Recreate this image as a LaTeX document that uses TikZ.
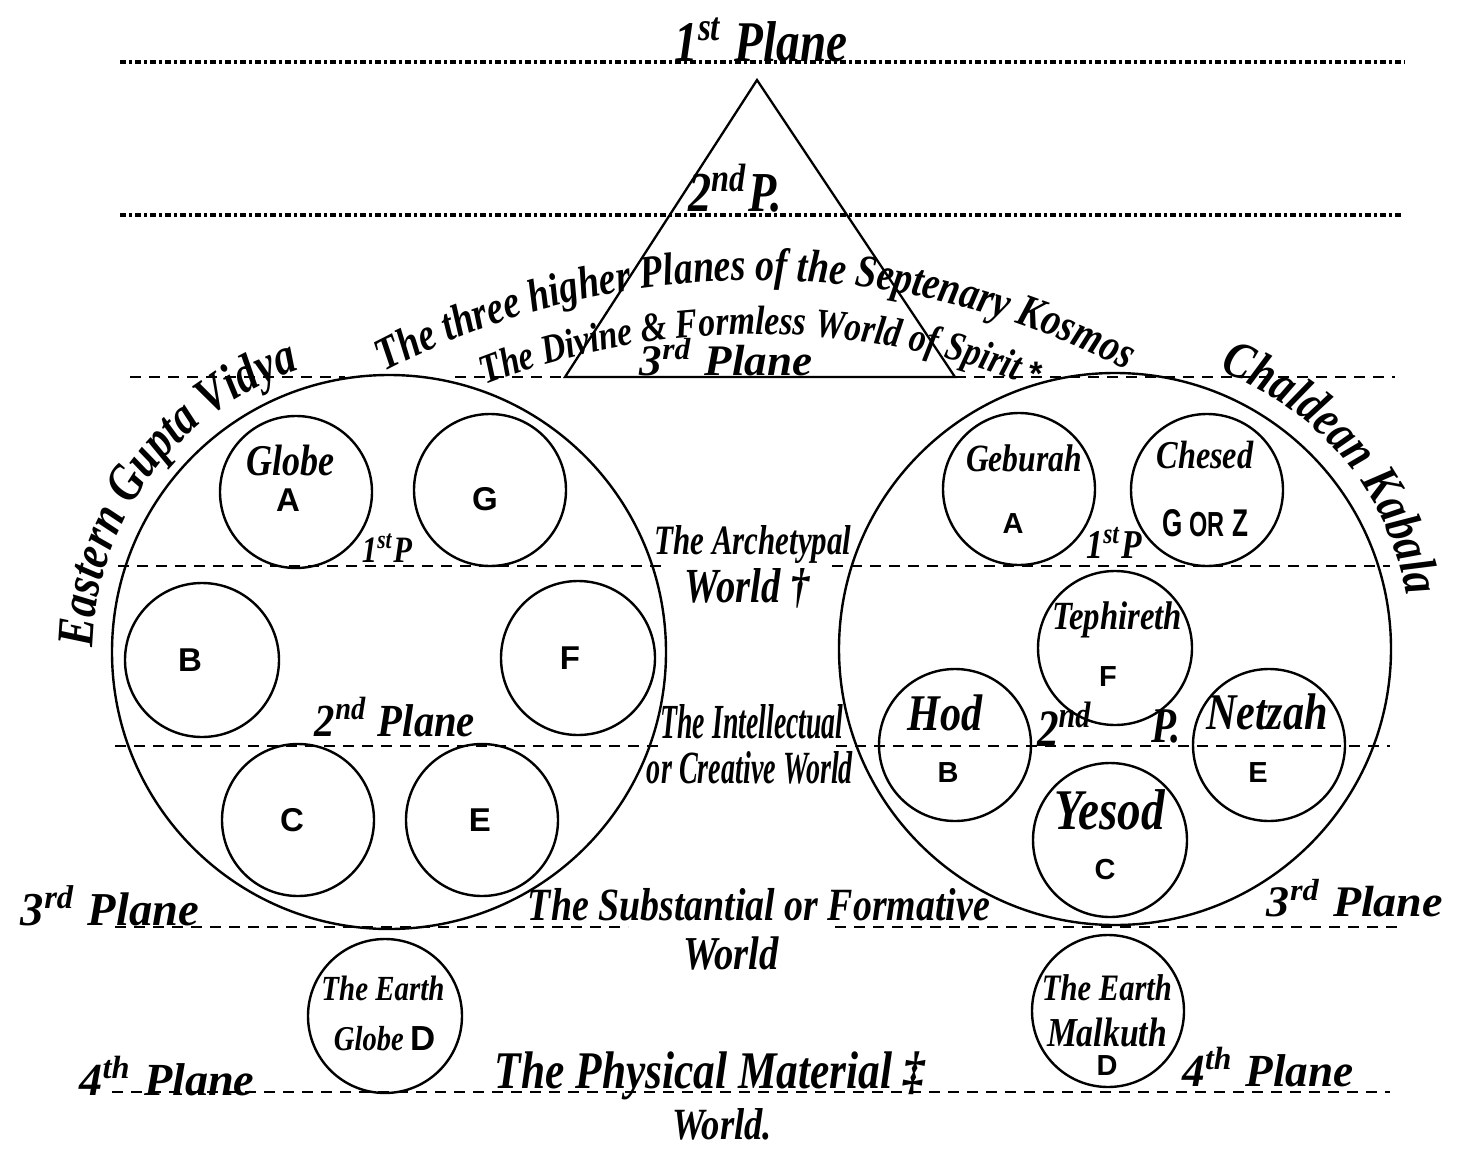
\documentclass[tikz,border=0pt]{standalone}
\usepackage{graphicx}
\usepackage{fontspec}
\setmainfont{Liberation Serif}
\setsansfont{Liberation Sans}
\newfontfamily\lettering[FakeStretch=0.82]{Liberation Serif}
\usetikzlibrary{decorations.text}
\newcommand\lab[2]{\resizebox{#1pt}{!}{\lettering\bfseries\itshape #2}}
\newcommand\labh[3]{\resizebox{#1pt}{#2pt}{\lettering\bfseries\itshape #3}}
\newcommand\sfl[2]{{\sffamily\bfseries\fontsize{#1}{#1}\selectfont #2}}
\newcommand\arcfont[1]{\lettering\bfseries\itshape\fontsize{#1}{#1}\selectfont}
\begin{document}
\begin{tikzpicture}[x=1pt,y=-1pt,
  ring/.style={draw, circle, line width=2.4pt, inner sep=0pt, minimum size=#1},
  txt/.style={inner sep=0pt},
  plane/.style={line width=2.2pt, dash pattern=on 11pt off 8pt},
  topplane/.style={line width=3.2pt, dash pattern=on 6pt off 3pt on 3pt off 3pt},
  solidline/.style={line width=2.3pt}]
\useasboundingbox (0,0) rectangle (1470,1164);
\fill[white] (0,0) rectangle (1470,1164);

% ---------- plane lines ----------
\coordinate (p1a) at (120,62);   \coordinate (p1b) at (1405,62);
\coordinate (p2a) at (120,215);  \coordinate (p2b) at (1403,215);
\coordinate (p3a) at (130,377);  \coordinate (p3b) at (345,377);
\coordinate (p3c) at (455,377);  \coordinate (p3d) at (955,377);
\coordinate (p3e) at (1395,377);
\coordinate (p4a) at (118,566);  \coordinate (p4b) at (668,566);
\coordinate (p4c) at (832,566);  \coordinate (p4d) at (1390,566);
\coordinate (p5a) at (115,746);  \coordinate (p5b) at (665,746);
\coordinate (p5c) at (836,746);  \coordinate (p5d) at (1390,746);
\coordinate (p6a) at (115,927);  \coordinate (p6b) at (628,927);
\coordinate (p6c) at (835,927);  \coordinate (p6d) at (1398,927);
\coordinate (p7a) at (112,1092); \coordinate (p7b) at (1390,1092);

% ---------- triangle ----------
\coordinate (apex) at (757,80);
\coordinate (tl) at (565,377);
\coordinate (tr) at (955,377);

\draw[topplane] (p1a) -- (p1b);
\draw[topplane] (p2a) -- (p2b);
\draw[plane] (p3a) -- (p3b);
\draw[plane] (p3c) -- (tl);
\draw[plane] (p3d) -- (p3e);
\draw[plane] (p4a) -- (p4b);
\draw[plane] (p4c) -- (p4d);
\draw[plane] (p5a) -- (p5b);
\draw[plane] (p5c) -- (p5d);
\draw[plane] (p6a) -- (p6b);
\draw[plane] (p6c) -- (p6d);
\draw[plane] (p7a) -- (p7b);

\draw[solidline, line join=miter] (apex) -- (tl) -- (tr) -- cycle;

% ---------- big circles ----------
\node[ring=554pt] (Lbig) at (389,652) {};
\node[ring=552pt] (Rbig) at (1115,649) {};

% ---------- left small circles ----------
\node[ring=152pt] (LA) at (296,492) {};
\node[ring=152pt] (LG) at (490,490) {};
\node[ring=154pt] (LB) at (202,660) {};
\node[ring=154pt] (LF) at (578,658) {};
\node[ring=152pt] (LC) at (298,820) {};
\node[ring=152pt] (LE) at (482,820) {};
\node[ring=154pt] (Learth) at (385,1016) {};

% ---------- right small circles ----------
\node[ring=152pt] (RGeb) at (1019,489) {};
\node[ring=152pt] (RChes) at (1207,490) {};
\node[ring=154pt] (RTeph) at (1115,648) {};
\node[ring=152pt] (RHod) at (955,745) {};
\node[ring=152pt] (RNetz) at (1269,745) {};
\node[ring=154pt] (RYes) at (1110,840) {};
\node[ring=152pt] (Rearth) at (1108,1011) {};

% ---------- curved texts ----------
\path[decorate, decoration={text along path, text align=center,
  text={|\arcfont{46}|The three higher Planes of the Septenary Kosmos}}]
  (757,1080) ++(234.85:800) arc[start angle=234.85, end angle=304.85, radius=800];
\path[decorate, decoration={text along path, text align=center,
  text={|\arcfont{41}|The Divine {\&} Formless World of Spirit}}]
  (757,1080) ++(240:746) arc[start angle=240, end angle=299.0, radius=746];
\path[decorate, decoration={text along path, text align=center,
  text={|\arcfont{52}|Eastern Gupta Vidya}}]
  (389,652) ++(149:296) arc[start angle=149, end angle=284.4, radius=296];
\path[decorate, decoration={text along path, text align=center,
  text={|\arcfont{52}|Chaldean Kabala}}]
  (1115,649) ++(270:297) arc[start angle=270, end angle=370.4, radius=297];

% ---------- top labels ----------
\node[txt] (t1st) at (761,40) {\lab{173}{1\textsuperscript{st} Plane}};
\node[txt] (t2ndP) at (735,188) {\lab{94}{2\textsuperscript{nd}P.}};
\node[txt] (t3tri) at (726,357) {\labh{172}{37}{3\textsuperscript{rd} Plane}};
\node[txt] (star) at (1036,374) {\sfl{34}{*}};

% ---------- left circle labels ----------
\node[txt] (tGlobe) at (290,461) {\lab{88}{Globe}};
\node[txt] (tLA) at (288,500) {\sfl{33}{A}};
\node[txt] (tLG) at (485,499) {\sfl{33}{G}};
\node[txt] (tLB) at (190,660) {\sfl{33}{B}};
\node[txt] (tLF) at (570,658) {\sfl{33}{F}};
\node[txt] (tLC) at (292,820) {\sfl{33}{C}};
\node[txt] (tLE) at (480,820) {\sfl{33}{E}};
\node[txt] (tL1P) at (387,548) {\lab{50}{1\textsuperscript{st}P}};
\node[txt] (tL2P) at (395,717) {\labh{160}{39}{2\textsuperscript{nd} Plane}};
\node[txt] (tLE1) at (383,988) {\lab{123}{The Earth}};
\node[txt] (tLE2) at (385,1039) {\lab{102}{Globe \textsf{\upshape D}}};
\node[txt] (tL3P) at (110,906) {\labh{178}{40}{3\textsuperscript{rd} Plane}};
\node[txt] (tL4P) at (167,1076) {\labh{175}{39}{4\textsuperscript{th} Plane}};

% ---------- middle labels ----------
\node[txt] (tArch) at (753,545) {\labh{197}{29}{The Archetypal}};
\node[txt] (tArchW) at (747,588) {\labh{125}{34}{World †}};
\node[txt] (tInt) at (752,722) {\labh{183}{34}{The Intellectual}};
\node[txt] (tIntW) at (750,768) {\labh{206}{32}{or Creative World}};
\node[txt] (tSub) at (759,905) {\lab{462}{The Substantial or Formative}};
\node[txt] (tSubW) at (731,953) {\lab{96}{World}};
\node[txt] (tPhy) at (710,1076) {\lab{430}{The Physical Material ‡}};
\node[txt] (tPhyW) at (722,1124) {\lab{100}{World.}};

% ---------- right circle labels ----------
\node[txt] (tGeb) at (1024,458) {\lab{116}{Geburah}};
\node[txt] (tRA) at (1013,524) {\sfl{29}{A}};
\node[txt] (tChes) at (1205,455) {\lab{97}{Chesed}};
\node[txt] (tGZ) at (1205,523) {\resizebox{86pt}{27pt}{\sffamily\bfseries G {\small OR} Z}};
\node[txt] (tR1P) at (1114,543) {\lab{55}{1\textsuperscript{st}P}};
\node[txt] (tTeph) at (1117,620) {\lab{130}{Tephireth}};
\node[txt] (tRF) at (1108,677) {\sfl{29}{F}};
\node[txt] (tHod) at (945,713) {\lab{75}{Hod}};
\node[txt] (tRB) at (948,773) {\sfl{29}{B}};
\node[txt] (tR2a) at (1065,724) {\lab{56}{2\textsuperscript{nd}}};
\node[txt] (tR2b) at (1166,726) {\lab{30}{P.}};
\node[txt] (tNetz) at (1267,712) {\lab{122}{Netzah}};
\node[txt] (tRE) at (1258,773) {\sfl{29}{E}};
\node[txt] (tYes) at (1110,810) {\lab{110}{Yesod}};
\node[txt] (tRC) at (1105,870) {\sfl{29}{C}};
\node[txt] (tRE1) at (1107,988) {\lab{130}{The Earth}};
\node[txt] (tRE2) at (1107,1032) {\lab{120}{Malkuth}};
\node[txt] (tRD) at (1107,1066) {\sfl{29}{D}};
\node[txt] (tR3P) at (1355,898) {\labh{176}{37}{3\textsuperscript{rd} Plane}};
\node[txt] (tR4P) at (1268,1067) {\labh{171}{39}{4\textsuperscript{th} Plane}};
\end{tikzpicture}
\end{document}
